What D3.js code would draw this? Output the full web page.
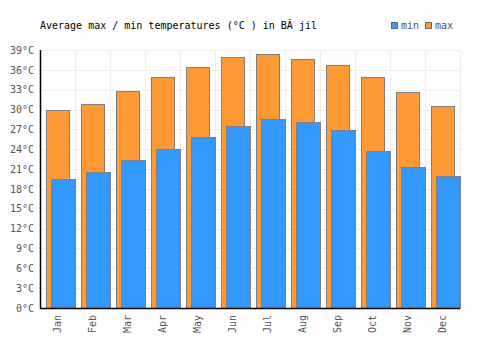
<!DOCTYPE html>
<html>
<head>
<meta charset="utf-8">
<script src="https://cdn.jsdelivr.net/npm/d3@7"></script>
<style>
body { margin: 0; background: #fff; }
text { font-family: "DejaVu Sans Mono", monospace; }
</style>
</head>
<body>
<div id="chart"></div>
<script>
var MONTHS = ['Jan', 'Feb', 'Mar', 'Apr', 'May', 'Jun', 'Jul', 'Aug', 'Sep', 'Oct', 'Nov', 'Dec'];
var MIN_TEMPS = [19.5, 20.5, 22.3, 24.0, 25.8, 27.5, 28.5, 28.1, 26.9, 23.7, 21.3, 19.9];
var MAX_TEMPS = [30.0, 30.8, 32.8, 34.9, 36.4, 37.9, 38.4, 37.7, 36.8, 34.9, 32.6, 30.6];
var Y_TICKS = [0, 3, 6, 9, 12, 15, 18, 21, 24, 27, 30, 33, 36, 39];
var TITLE = 'Average max / min temperatures (°C ) in BĂ jil';

var margin = {top: 50, right: 40, bottom: 42, left: 40},
    width = 500 - margin.left - margin.right,
    height = 350 - margin.top - margin.bottom;

var svg = d3.select("#chart")
    .append("svg")
    .attr("width", 500)
    .attr("height", 350);

var g = svg.append("g")
    .attr("transform", "translate(" + margin.left + "," + margin.top + ")");

var x = d3.scaleBand()
    .domain(MONTHS)
    .range([0, width]);

var y = d3.scaleLinear()
    .domain([0, 39])
    .range([height, 0]);

// grid
g.selectAll(".hgrid")
    .data(Y_TICKS)
    .enter().append("line")
    .attr("x1", 0).attr("x2", width)
    .attr("y1", function(d) { return Math.round(y(d)) + 0.5; })
    .attr("y2", function(d) { return Math.round(y(d)) + 0.5; })
    .attr("stroke", "#eeeeee");

g.selectAll(".vgrid")
    .data(MONTHS)
    .enter().append("line")
    .attr("x1", function(d) { return Math.round(x(d) + x.bandwidth()) + 0.5; })
    .attr("x2", function(d) { return Math.round(x(d) + x.bandwidth()) + 0.5; })
    .attr("y1", 0).attr("y2", height)
    .attr("stroke", "#eeeeee");

var bw = x.bandwidth();

// max bars (behind)
g.selectAll(".maxbar")
    .data(MAX_TEMPS)
    .enter().append("rect")
    .attr("x", function(d, i) { return Math.round(x(MONTHS[i]) + bw * 0.18) + 0.5; })
    .attr("y", function(d) { return Math.round(y(d)) + 0.5; })
    .attr("width", Math.round(bw * 0.66))
    .attr("height", function(d) { return height - Math.round(y(d)); })
    .attr("fill", "#ff9933")
    .attr("stroke", "#808080")
    .attr("stroke-width", 1);

// min bars (front)
g.selectAll(".minbar")
    .data(MIN_TEMPS)
    .enter().append("rect")
    .attr("x", function(d, i) { return Math.round(x(MONTHS[i]) + bw * 0.32) + 0.5; })
    .attr("y", function(d) { return Math.round(y(d)) + 0.5; })
    .attr("width", Math.round(bw * 0.69))
    .attr("height", function(d) { return height - Math.round(y(d)); })
    .attr("fill", "#3399ff")
    .attr("stroke", "#808080")
    .attr("stroke-width", 1);

// axes
var yAxis = g.append("g")
    .call(d3.axisLeft(y).tickValues(Y_TICKS).tickSize(0).tickPadding(6)
        .tickFormat(function(d) { return d + "°C"; }));
yAxis.select(".domain").remove();
yAxis.selectAll("text")
    .attr("fill", "#555")
    .style("font-size", "10px");

var xAxis = g.append("g")
    .attr("transform", "translate(0," + height + ")")
    .call(d3.axisBottom(x).tickSize(0));
xAxis.select(".domain").remove();
xAxis.selectAll("text")
    .attr("fill", "#555")
    .style("font-size", "10px")
    .style("text-anchor", "end")
    .attr("transform", "rotate(-90)")
    .attr("x", -7)
    .attr("y", 0)
    .attr("dy", "0.35em");

g.append("line")
    .attr("x1", 0.5).attr("x2", 0.5)
    .attr("y1", 0).attr("y2", height + 1)
    .attr("stroke", "#000").attr("stroke-width", 1.5);
g.append("line")
    .attr("x1", 0).attr("x2", width)
    .attr("y1", height + 0.5).attr("y2", height + 0.5)
    .attr("stroke", "#000").attr("stroke-width", 1.5);

// title
svg.append("text")
    .attr("x", 40)
    .attr("y", 29)
    .style("font-size", "10px")
    .attr("fill", "#000")
    .text(TITLE);

// legend
var legend = svg.append("g");
var items = [{name: 'min', color: '#3399ff', x: 391}, {name: 'max', color: '#ff9933', x: 425}];
legend.selectAll("rect")
    .data(items)
    .enter().append("rect")
    .attr("x", function(d) { return d.x + 0.5; })
    .attr("y", 22.5)
    .attr("width", 6).attr("height", 6)
    .attr("fill", function(d) { return d.color; })
    .attr("stroke", "#666")
    .attr("stroke-width", 1);
legend.selectAll("text")
    .data(items)
    .enter().append("text")
    .attr("x", function(d) { return d.x + 10; })
    .attr("y", 29)
    .style("font-size", "10px")
    .attr("fill", "#555")
    .text(function(d) { return d.name; });
</script>
</body>
</html>
